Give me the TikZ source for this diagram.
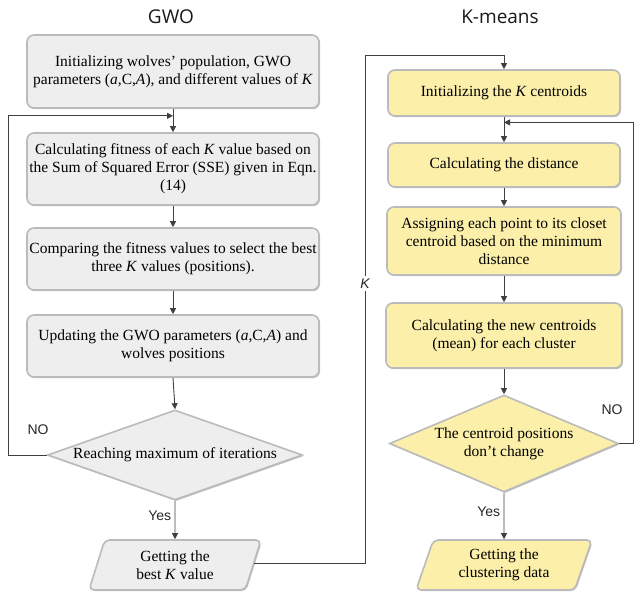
\documentclass[tikz,border=0pt]{standalone}
\usepackage{fontspec}
\setmainfont{Liberation Serif}
\newfontfamily\titlefont{Open Sans}
\newfontfamily\labelfont{Liberation Sans}
\usetikzlibrary{shapes.geometric,arrows.meta,shadows,calc}
\definecolor{boxgray}{HTML}{EEEEEE}
\definecolor{boxyellow}{HTML}{FBEFAA}
\definecolor{edgegray}{HTML}{BBBBBB}
\definecolor{linegray}{HTML}{404040}
\tikzset{
  base/.style={draw=edgegray, line width=1.6pt, align=center, inner sep=1pt,
    font=\fontsize{15.5}{18}\selectfont,
    drop shadow={shadow xshift=1pt, shadow yshift=-1.2pt, opacity=0.25, fill=black}},
  gbox/.style={base, fill=boxgray, rounded corners=7pt},
  ybox/.style={base, fill=boxyellow, rounded corners=7pt},
  gdia/.style={base, fill=boxgray, diamond, aspect=2.8, inner sep=0pt},
  ydia/.style={base, fill=boxyellow, diamond, aspect=2.4, inner sep=0pt},
  gpar/.style={base, fill=boxgray, trapezium, trapezium left angle=63,
    trapezium right angle=117, trapezium stretches body, rounded corners=5pt},
  ypar/.style={base, fill=boxyellow, trapezium, trapezium left angle=63,
    trapezium right angle=117, trapezium stretches body, rounded corners=5pt},
  conn/.style={draw=linegray, line width=0.9pt, -{Triangle[length=6pt,width=6pt]}},
  plain/.style={draw=linegray, line width=0.9pt},
  ttl/.style={font=\titlefont\fontsize{19}{21}\selectfont, text=black!90},
  lbl/.style={font=\labelfont\fontsize{14}{16}\selectfont, text=black!85},
}
\begin{document}
\begin{tikzpicture}[x=1pt,y=-1pt]
\useasboundingbox (0,0) rectangle (636,593);

% column titles
\node[ttl] (tg) at (171,17) {GWO};
\node[ttl] (tk) at (500,17) {K-means};

% GWO column
\node[gbox, minimum width=292, minimum height=73] (g1) at (173,71.5)
  {Initializing wolves' population, GWO\\ parameters (\textit{a},C,\textit{A}), and different values of \textit{K}};
\node[gbox, minimum width=292, minimum height=72] (g2) at (173,169)
  {Calculating fitness of each \textit{K} value based on\\ the Sum of Squared Error (SSE) given in Eqn.\\ (14)};
\node[gbox, minimum width=292, minimum height=62] (g3) at (173,259)
  {Comparing the fitness values to select the best\\ three \textit{K} values (positions).};
\node[gbox, minimum width=292, minimum height=62] (g4) at (173,346)
  {Updating the GWO parameters (\textit{a},C,\textit{A}) and\\ wolves positions};
\node[gdia, minimum width=255, minimum height=90] (g5) at (175,455)
  {Reaching maximum of iterations};
\node[gpar, minimum width=172, minimum height=50] (g6) at (175,565)
  {Getting the\\ best \textit{K} value};

% K-means column
\node[ybox, minimum width=232, minimum height=46] (k1) at (504,93)
  {Initializing the \textit{K} centroids};
\node[ybox, minimum width=232, minimum height=44] (k2) at (504,165)
  {Calculating the distance};
\node[ybox, minimum width=234, minimum height=68] (k3) at (504,241)
  {Assigning each point to its closet\\ centroid based on the minimum\\ distance};
\node[ybox, minimum width=236, minimum height=65] (k4) at (504,335.5)
  {Calculating the new centroids\\ (mean) for each cluster};
\node[ydia, minimum width=229, minimum height=97] (k5) at (504,443.5)
  {The centroid positions\\ don't change};
\node[ypar, minimum width=176, minimum height=50] (k6) at (504,565)
  {Getting the\\ clustering data};

% GWO flow
\coordinate (gj) at ($(g1.south)!0.3!(g2.north)$);
\draw[conn] (g1.south) -- (g2.north);
\draw[conn] (g2.south) -- (g3.north);
\draw[conn] (g3.south) -- (g4.north);
\draw[conn] (g4.south) -- (g5.north);
\draw[conn] (g5.south) -- node[lbl, left, pos=0.38] (yesg) {Yes} (g6.north);
\draw[conn] (g5.west) -- ++(-38,0) coordinate (gl) |- (gj);
\node[lbl] (nog) at (38,430) {NO};

% hand-over of the best K
\coordinate (hb) at (365,563);
\coordinate (ht) at (365,55);
\draw[plain] (g6.east |- hb) -- (hb) -- node[lbl, fill=white, inner sep=3pt, pos=0.55] (klab) {\itshape K} (ht);
\draw[conn] (ht) -| (k1.north);

% K-means flow
\coordinate (kj) at ($(k1.south)!0.22!(k2.north)$);
\draw[conn] (k1.south) -- (k2.north);
\draw[conn] (k2.south) -- (k3.north);
\draw[conn] (k3.south) -- (k4.north);
\draw[conn] (k4.south) -- (k5.north);
\draw[conn] (k5.south) -- node[lbl, left, pos=0.4] (yesk) {Yes} (k6.north);
\draw[conn] (k5.east) -- (633,443.5) |- (kj);
\node[lbl] (nok) at (612,410) {NO};
\end{tikzpicture}
\end{document}
